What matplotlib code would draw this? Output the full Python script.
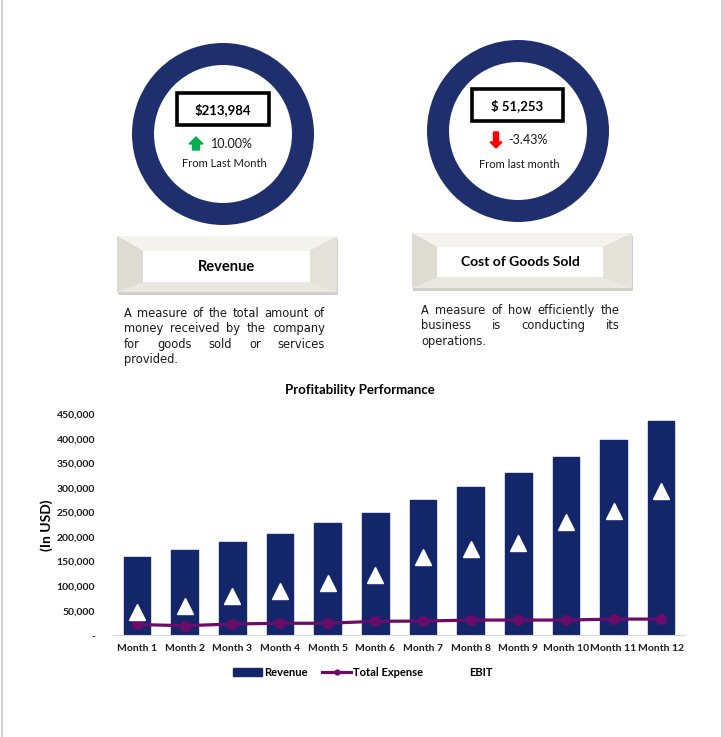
import numpy as np
import matplotlib
matplotlib.use("Agg")
import matplotlib.pyplot as plt
from matplotlib.patches import Wedge, Rectangle, Polygon, Patch
from matplotlib.lines import Line2D

plt.rcParams['font.family'] = ['Lato', 'DejaVu Sans']

# data
months = ["Month 1", "Month 2", "Month 3", "Month 4", "Month 5", "Month 6",
          "Month 7", "Month 8", "Month 9", "Month 10", "Month 11", "Month 12"]
revenue = [160000, 174000, 190000, 207000, 228000, 250000,
           276000, 302000, 331000, 362000, 397000, 436000]
total_expense = [22000, 19500, 23000, 24500, 24500, 28500,
                 29000, 31000, 31000, 31000, 33000, 33000]
ebit = [47000, 60000, 80000, 91000, 107000, 123000,
        159000, 175000, 187000, 231000, 254000, 294000]
yticks = [0, 50000, 100000, 150000, 200000, 250000, 300000, 350000, 400000, 450000]
ytick_labels = ["-", "50,000", "100,000", "150,000", "200,000", "250,000",
                "300,000", "350,000", "400,000", "450,000"]

kpi_values = ["$213,984", "$ 51,253"]
kpi_changes = ["10.00%", "-3.43%"]
kpi_notes = ["From Last Month", "From last month"]
kpi_names = ["Revenue", "Cost of Goods Sold"]
kpi_desc = [["A measure of the total amount of", "money received by the company",
             "for goods sold or services", "provided."],
            ["A measure of how efficiently the", "business is conducting its",
             "operations."]]

navy = "#1f2f6d"
bar_navy = "#13266a"
purple = "#6b0c6b"

fig = plt.figure(figsize=(7.23, 7.37), dpi=100)

# pixel-space overlay for the KPI cards
ov = fig.add_axes([0, 0, 1, 1])
ov.set_xlim(0, 723)
ov.set_ylim(737, 0)
ov.axis("off")
ov.plot([1.5, 1.5], [0, 737], color="#c8c8c8", lw=1.2)
ov.plot([721.5, 721.5], [0, 737], color="#c8c8c8", lw=1.2)

cards = [
    dict(c=(223, 134), box=(177, 93, 92, 32), arrow=(196, 144), chg=(211, 144),
         note_y=163, bev=(117, 236, 337, 292), inner=(143, 251, 310, 282), desc=(124, 325, 313)),
    dict(c=(518, 131), box=(472, 89, 91, 32), arrow=(496, 140), chg=(508, 140),
         note_y=164, bev=(412, 233, 632, 288), inner=(437, 247, 603, 277), desc=(421, 620, 310)),
]

renderer = fig.canvas.get_renderer()


def justify(lines, x0, x1, y, dy, size):
    for i, line in enumerate(lines):
        words = line.split()
        texts = [ov.text(0, y + i * dy, w, fontsize=size, va="center", ha="left",
                         color="#1a1a1a", family="DejaVu Sans") for w in words]
        widths = [t.get_window_extent(renderer).width for t in texts]
        if i == len(lines) - 1 or len(words) == 1:
            gap = size * 1.389 * 0.32
        else:
            gap = max((x1 - x0 - sum(widths)) / (len(words) - 1), size * 1.389 * 0.2)
        x = x0
        for t, w in zip(texts, widths):
            t.set_x(x)
            x += w + gap


for i, cd in enumerate(cards):
    cx, cy = cd["c"]
    ov.add_patch(Wedge((cx, cy), 91, 0, 360, width=22, color=navy, ec="none"))
    bx, by, bw, bh = cd["box"]
    ov.add_patch(Rectangle((bx, by), bw, bh, fc="white", ec="black", lw=2.6))
    ov.text(bx + bw / 2, by + bh / 2 + 1, kpi_values[i], ha="center", va="center",
            fontsize=9.5, fontweight="bold", color="black")
    ax_, ay_ = cd["arrow"]
    if i == 0:
        pts = [(ax_ - 7, ay_), (ax_, ay_ - 7), (ax_ + 7, ay_), (ax_ + 3.5, ay_),
               (ax_ + 3.5, ay_ + 6), (ax_ - 3.5, ay_ + 6), (ax_ - 3.5, ay_)]
        ov.add_patch(Polygon(pts, closed=True, color="#00b050"))
    else:
        pts = [(ax_ - 6, ay_ + 2), (ax_, ay_ + 8), (ax_ + 6, ay_ + 2), (ax_ + 2.5, ay_ + 2),
               (ax_ + 2.5, ay_ - 8), (ax_ - 2.5, ay_ - 8), (ax_ - 2.5, ay_ + 2)]
        ov.add_patch(Polygon(pts, closed=True, color="#ff0000"))
    ov.text(cd["chg"][0], cd["chg"][1], kpi_changes[i], ha="left", va="center",
            fontsize=9, color="#1a1a1a")
    ov.text(cx + 1, cd["note_y"], kpi_notes[i], ha="center", va="center",
            fontsize=8, color="#1a1a1a")

    # bevelled label box
    x0, y0, x1, y1 = cd["bev"]
    ix0, iy0, ix1, iy1 = cd["inner"]
    ov.add_patch(Rectangle((x0 + 1, y0 + 3), x1 - x0, y1 - y0, fc="#d0cfca", ec="none"))
    ov.add_patch(Polygon([(x0, y0), (x1, y0), (ix1, iy0), (ix0, iy0)], fc="#f4f3ee", ec="none"))
    ov.add_patch(Polygon([(x0, y0), (ix0, iy0), (ix0, iy1), (x0, y1)], fc="#dedcd2", ec="none"))
    ov.add_patch(Polygon([(x1, y0), (ix1, iy0), (ix1, iy1), (x1, y1)], fc="#e4e2d9", ec="none"))
    ov.add_patch(Polygon([(x0, y1), (ix0, iy1), (ix1, iy1), (x1, y1)], fc="#e9e8e1", ec="none"))
    ov.add_patch(Rectangle((ix0, iy0), ix1 - ix0, iy1 - iy0, fc="white", ec="none"))
    ov.text((ix0 + ix1) / 2, (iy0 + iy1) / 2, kpi_names[i], ha="center", va="center",
            fontsize=10.5 if i == 0 else 10, fontweight="bold", color="black")

    dx0, dx1, dy0 = cd["desc"]
    justify(kpi_desc[i], dx0, dx1, dy0, 15.5, 8.3)

# chart
ax = fig.add_axes([0.1567, 0.138, 0.7907, 0.2999])
ax.patch.set_alpha(0)
x = np.arange(len(months))
ax.bar(x, revenue, width=0.56, color=bar_navy, ec=bar_navy, lw=1, joinstyle="round",
       label="Revenue", zorder=2)
ax.plot(x, total_expense, "-o", color=purple, lw=2.3, ms=7, label="Total Expense", zorder=3)
ax.plot(x, ebit, "^", color="white", ms=11, ls="none", label="EBIT", zorder=4)
ax.set_xlim(-0.5, len(months) - 0.5)
ax.set_ylim(0, 450000)
ax.set_yticks(yticks)
ax.set_yticklabels(ytick_labels)
ax.set_xticks(x)
ax.set_xticklabels(months)
for lab in ax.get_xticklabels() + ax.get_yticklabels():
    lab.set_fontweight("bold")
    lab.set_fontsize(7.5)
    lab.set_color("#1a1a1a")
ax.tick_params(length=0, pad=6)
ax.tick_params(axis="y", pad=13)
for s in ["top", "right", "left"]:
    ax.spines[s].set_visible(False)
ax.spines["bottom"].set_color("#d9d9d9")
ax.set_ylabel("(In USD)", fontsize=10, fontweight="bold", labelpad=3)
fig.text(0.498, 0.471, "Profitability Performance", ha="center", va="center",
         fontsize=9.5, fontweight="bold", color="black")

handles = [Patch(color=bar_navy),
           Line2D([], [], color=purple, lw=2.3, marker="o", ms=3.5),
           Line2D([], [], color="white", marker="^", ls="none", ms=6)]
leg = fig.legend(handles, ["Revenue", "Total Expense", "EBIT"], loc="center",
                 bbox_to_anchor=(0.502, 0.088), ncol=3, frameon=False, fontsize=8,
                 handlelength=2.6, handletextpad=0.2, columnspacing=1.3)
for t in leg.get_texts():
    t.set_fontweight("bold")

fig.savefig("out.png", dpi=100, facecolor="white")
